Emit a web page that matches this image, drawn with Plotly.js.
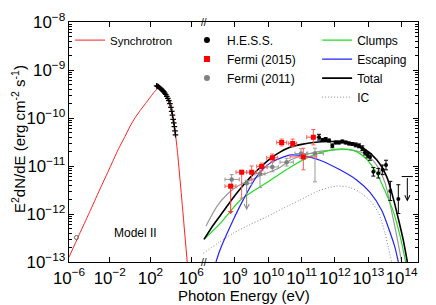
<!DOCTYPE html>
<html>
<head>
<meta charset="utf-8">
<script src="https://cdn.plot.ly/plotly-3.0.1.min.js"></script>
<style>html,body{margin:0;padding:0;background:#fff;}#chart{width:436px;height:305px;}</style>
</head>
<body>
<div id="chart"></div>
<script>
// ---- data (log10 of photon energy in eV, log10 of E^2dN/dE in erg cm^-2 s^-1) ----
const syncLogE = [-6, -5, -4, -3, -2, -1.2, -0.5, 0, 0.5, 1.0, 1.5, 2.0, 2.4, 2.7, 3.0, 3.3, 3.6, 3.94, 4.23, 4.43, 4.65, 5.05, 5.6];
const syncLogF = [-12.9, -12.43, -11.97, -11.5, -11.04, -10.67, -10.38, -10.17, -9.99, -9.84, -9.7, -9.56, -9.45, -9.39, -9.4, -9.46, -9.55, -9.67, -9.98, -10.3, -10.72, -11.65, -13.0];

const xrayLogE = [2.6, 2.7, 2.8, 2.9, 3.0, 3.1, 3.2, 3.3, 3.4, 3.5, 3.6, 3.7, 3.8, 3.9, 4.0, 4.08, 4.15, 4.22, 4.28, 4.34, 4.4, 4.45];
const xrayLogF = [-9.33, -9.34, -9.35, -9.37, -9.39, -9.41, -9.43, -9.45, -9.48, -9.51, -9.55, -9.59, -9.64, -9.7, -9.78, -9.86, -9.94, -10.03, -10.1, -10.18, -10.27, -10.35];

const radioLogE = [-5.27];
const radioLogF = [-12.49];

const totalLogE = [8.07, 8.3, 8.55, 8.8, 9.05, 9.3, 9.55, 9.8, 10.05, 10.35, 10.65, 11.0, 11.35, 11.85, 12.35, 12.85, 13.25, 13.55, 13.75, 13.9, 14.05, 14.17];
const totalLogF = [-12.53, -12.28, -12.04, -11.8, -11.57, -11.36, -11.17, -11.0, -10.85, -10.71, -10.61, -10.55, -10.51, -10.49, -10.5, -10.63, -10.87, -11.22, -11.68, -12.1, -12.55, -13.0];

const clumpsLogE = [8.07, 8.55, 9.15, 9.6, 10.05, 10.65, 11.25, 11.95, 12.35, 12.65, 12.95, 13.25, 13.55, 13.75, 13.95, 14.12];
const clumpsLogF = [-12.53, -12.2, -11.72, -11.5, -11.3, -11.03, -10.8, -10.66, -10.65, -10.7, -10.86, -11.15, -11.6, -11.95, -12.45, -13.0];

const escLogE = [8.43, 8.55, 8.95, 9.25, 9.65, 10.05, 10.35, 10.7, 11.05, 11.55, 12.15, 12.65, 13.05, 13.4, 13.65, 13.8, 13.9];
const escLogF = [-13.0, -12.75, -12.12, -11.7, -11.22, -10.94, -10.84, -10.77, -10.79, -10.88, -11.08, -11.29, -11.55, -11.92, -12.38, -12.7, -13.0];

const icLogE = [8.05, 8.5, 8.95, 9.45, 9.95, 10.45, 10.95, 11.5, 12.05, 12.45, 12.75, 13.05, 13.3, 13.5, 13.6, 13.7];
const icLogF = [-12.82, -12.6, -12.4, -12.22, -12.06, -11.88, -11.71, -11.52, -11.42, -11.45, -11.55, -11.72, -11.97, -12.4, -12.7, -13.0];

const grayLogE = [8.13, 8.45, 8.75, 9.05, 9.45, 9.95, 10.35, 10.65, 11.35, 11.9, 12.4, 12.9, 13.25, 13.5, 13.7, 13.85, 14.0];
const grayLogF = [-12.25, -11.85, -11.6, -11.43, -11.3, -11.15, -11.03, -10.88, -10.72, -10.67, -10.66, -10.75, -10.98, -11.35, -11.95, -12.45, -13.0];

const hessLogE = [11.52, 11.62, 11.72, 11.82, 11.92, 12.02, 12.12, 12.22, 12.32, 12.42, 12.52, 12.62, 12.72, 12.82, 12.9, 12.97, 13.05, 13.15, 13.3, 13.43, 13.53, 13.66, 13.9];
const hessLogF = [-10.40, -10.46, -10.44, -10.47, -10.58, -10.51, -10.51, -10.49, -10.51, -10.53, -10.54, -10.56, -10.58, -10.63, -10.72, -10.77, -10.81, -11.12, -11.15, -11.08, -10.98, -11.52, -11.69];
const hessLogErr = [0.06, 0.03, 0.03, 0.03, 0.04, 0.03, 0.03, 0.03, 0.03, 0.03, 0.03, 0.04, 0.04, 0.05, 0.05, 0.06, 0.07, 0.09, 0.1, 0.1, 0.1, 0.2, 0.3];
const hessUlLogE = [14.17];
const hessUlFrom = [-11.22];
const hessUlTo = [-11.74];

const f15LogE = [8.87, 9.2, 9.5, 9.8, 10.12, 10.4, 10.73, 11.05, 11.35];
const f15LogF = [-11.42, -11.13, -11.13, -11.01, -10.83, -10.51, -10.53, -10.81, -10.4];
const f15LogElo = [8.7, 9.03, 9.35, 9.65, 9.95, 10.25, 10.6, 10.65, 11.15];
const f15LogEhi = [9.03, 9.35, 9.65, 9.95, 10.28, 10.55, 10.85, 11.45, 11.5];
const f15LogFlo = [-11.42, -11.67, -11.29, -11.1, -10.92, -10.58, -10.6, -11.08, -10.56];
const f15LogFhi = [-11.38, -11.09, -11.0, -10.94, -10.75, -10.44, -10.44, -10.63, -10.24];
const f15UlLogE = [8.87];
const f15UlFrom = [-11.42];
const f15UlTo = [-12.0];

const f11LogE = [8.9, 9.35, 9.75, 10.12, 10.55, 10.98, 11.4];
const f11LogF = [-11.28, -11.36, -11.16, -11.02, -10.92, -10.74, -10.74];
const f11LogElo = [8.7, 9.2, 9.6, 9.97, 10.35, 10.8, 11.15];
const f11LogEhi = [9.13, 9.5, 9.9, 10.3, 10.75, 11.18, 11.65];
const f11LogFlo = [-11.4, -11.36, -11.45, -11.12, -11.0, -10.84, -11.33];
const f11LogFhi = [-11.18, -11.3, -11.0, -10.9, -10.84, -10.64, -10.63];
const f11UlLogE = [9.35];
const f11UlFrom = [-11.36];
const f11UlTo = [-11.92];

// ---- helpers ----
const FONT = 'Liberation Sans, Arial, Helvetica, sans-serif';
const pw = a => a.map(v => Math.pow(10, v));
const plusOf = (hi, c) => hi.map((h, i) => Math.pow(10, h) - Math.pow(10, c[i]));
const minusOf = (lo, c) => lo.map((l, i) => Math.pow(10, c[i]) - Math.pow(10, l));

const hessMarker = {symbol: 'circle', size: 4, color: '#000'};
const f15Marker = {symbol: 'square', size: 5, color: '#ff0000'};
const f11Marker = {symbol: 'circle', size: 4.5, color: '#808080'};

const traces = [
  {x: pw(syncLogE), y: pw(syncLogF), xaxis: 'x', yaxis: 'y', mode: 'lines', name: 'Synchrotron',
   line: {color: '#ff2020', width: 1, shape: 'spline', smoothing: 0.6}, legend: 'legend'},
  {x: pw(xrayLogE), y: pw(xrayLogF), xaxis: 'x', yaxis: 'y', mode: 'markers', showlegend: false,
   marker: {symbol: 'cross-thin-open', size: 4, color: '#000', line: {width: 1.2, color: '#000'}}},
  {x: pw(radioLogE), y: pw(radioLogF), xaxis: 'x', yaxis: 'y', mode: 'markers', showlegend: false,
   marker: {symbol: 'circle-open', size: 4, color: '#666', line: {width: 1, color: '#666'}}},

  {x: pw(icLogE), y: pw(icLogF), xaxis: 'x2', yaxis: 'y2', mode: 'lines', name: 'IC', legend: 'legend3', legendrank: 4,
   line: {color: '#888', width: 1, dash: '1px,2px', shape: 'spline', smoothing: 0.8}},
  {x: pw(grayLogE), y: pw(grayLogF), xaxis: 'x2', yaxis: 'y2', mode: 'lines', showlegend: false,
   line: {color: '#999', width: 1.2, shape: 'spline', smoothing: 0.8}},
  {x: pw(clumpsLogE), y: pw(clumpsLogF), xaxis: 'x2', yaxis: 'y2', mode: 'lines', name: 'Clumps', legend: 'legend3', legendrank: 1,
   line: {color: '#22dd22', width: 1.2, shape: 'spline', smoothing: 0.8}},
  {x: pw(escLogE), y: pw(escLogF), xaxis: 'x2', yaxis: 'y2', mode: 'lines', name: 'Escaping', legend: 'legend3', legendrank: 2,
   line: {color: '#2222ff', width: 1.2, shape: 'spline', smoothing: 0.8}},
  {x: pw(totalLogE), y: pw(totalLogF), xaxis: 'x2', yaxis: 'y2', mode: 'lines', name: 'Total', legend: 'legend3', legendrank: 3,
   line: {color: '#000', width: 1.6, shape: 'spline', smoothing: 0.8}},

  {x: pw(f11LogE), y: pw(f11LogF), xaxis: 'x2', yaxis: 'y2', mode: 'markers', showlegend: false,
   marker: f11Marker,
   error_x: {type: 'data', symmetric: false, array: plusOf(f11LogEhi, f11LogE), arrayminus: minusOf(f11LogElo, f11LogE), color: '#999', thickness: 1, width: 2},
   error_y: {type: 'data', symmetric: false, array: plusOf(f11LogFhi, f11LogF), arrayminus: minusOf(f11LogFlo, f11LogF), color: '#999', thickness: 1, width: 2}},
  {x: pw(f15LogE), y: pw(f15LogF), xaxis: 'x2', yaxis: 'y2', mode: 'markers', showlegend: false,
   marker: f15Marker,
   error_x: {type: 'data', symmetric: false, array: plusOf(f15LogEhi, f15LogE), arrayminus: minusOf(f15LogElo, f15LogE), color: '#ff5a5a', thickness: 1, width: 2},
   error_y: {type: 'data', symmetric: false, array: plusOf(f15LogFhi, f15LogF), arrayminus: minusOf(f15LogFlo, f15LogF), color: '#ff5a5a', thickness: 1, width: 2}},
  {x: pw(hessLogE), y: pw(hessLogF), xaxis: 'x2', yaxis: 'y2', mode: 'markers', showlegend: false,
   marker: hessMarker,
   error_y: {type: 'data', symmetric: false,
     array: hessLogF.map((v, i) => Math.pow(10, v + hessLogErr[i]) - Math.pow(10, v)),
     arrayminus: hessLogF.map((v, i) => Math.pow(10, v) - Math.pow(10, v - hessLogErr[i])),
     color: '#000', thickness: 1, width: 2}},
  {x: pw(hessUlLogE), y: pw(hessUlFrom), xaxis: 'x2', yaxis: 'y2', mode: 'markers', showlegend: false,
   marker: {symbol: 'line-ew', size: 8, color: '#000', line: {width: 1, color: '#000'}}},

  // legend-only entries (no error bars in the key, as in the original)
  {x: [null], y: [null], xaxis: 'x2', yaxis: 'y2', mode: 'markers', name: 'H.E.S.S.', legend: 'legend2', legendrank: 1,
   marker: {symbol: 'circle', size: 6, color: '#000'}},
  {x: [null], y: [null], xaxis: 'x2', yaxis: 'y2', mode: 'markers', name: 'Fermi (2015)', legend: 'legend2', legendrank: 2,
   marker: {symbol: 'square', size: 6, color: '#ff0000'}},
  {x: [null], y: [null], xaxis: 'x2', yaxis: 'y2', mode: 'markers', name: 'Fermi (2011)', legend: 'legend2', legendrank: 3,
   marker: {symbol: 'circle', size: 6, color: '#808080'}}
];

const arrow = (e, from, to, color, head) => ({
  xref: 'x2', yref: 'y2', axref: 'x2', ayref: 'y2', x: e, y: to, ax: e, ay: from,
  text: '', showarrow: true, arrowhead: head, arrowsize: 1, arrowwidth: 1, arrowcolor: color,
  standoff: 0, startstandoff: 0
});

const annotations = [];
f15UlLogE.forEach((e, i) => annotations.push(arrow(e, f15UlFrom[i], f15UlTo[i], '#ff3030', 1)));
f11UlLogE.forEach((e, i) => annotations.push(arrow(e, f11UlFrom[i], f11UlTo[i], '#888', 5)));
hessUlLogE.forEach((e, i) => annotations.push(arrow(e, hessUlFrom[i], hessUlTo[i], '#000', 5)));

const brk = 0.3825;
annotations.push(
  {xref: 'paper', yref: 'paper', x: 0.191, y: 0.12, text: 'Model II', showarrow: false,
   font: {size: 12, family: FONT, color: '#000'}, xanchor: 'center', yanchor: 'middle'},
  {xref: 'paper', yref: 'paper', x: 0.5, y: -0.14, text: 'Photon Energy (eV)', showarrow: false,
   font: {size: 15, family: FONT, color: '#000'}, xanchor: 'center', yanchor: 'middle'},
  {xref: 'paper', yref: 'paper', x: -0.146, y: 0.5125, text: 'E<sup>2</sup>dN/dE (erg cm<sup>-2</sup> s<sup>-1</sup>)',
   showarrow: false, textangle: -90, font: {size: 15, family: FONT, color: '#000'}, xanchor: 'center', yanchor: 'middle'},
  {xref: 'paper', yref: 'paper', x: brk + 0.003, y: 0, text: '//', showarrow: false,
   font: {size: 10, family: FONT, color: '#000'}, xanchor: 'center', yanchor: 'middle'},
  {xref: 'paper', yref: 'paper', x: brk + 0.003, y: 1, text: '//', showarrow: false,
   font: {size: 10, family: FONT, color: '#000'}, xanchor: 'center', yanchor: 'middle'}
);

const axCommon = {
  type: 'log', showline: true, linecolor: '#000', linewidth: 1, ticks: 'inside', ticklen: 5,
  tickwidth: 1, tickcolor: '#000', showgrid: false, zeroline: false, exponentformat: 'power',
  tickangle: 0, tickfont: {size: 13.5, family: FONT, color: '#000'}
};
const yMinor = {ticks: 'inside', ticklen: 3, tickcolor: '#000', dtick: 'D1', showgrid: false};

const legendCommon = {bgcolor: 'rgba(0,0,0,0)', borderwidth: 0, xanchor: 'left', yanchor: 'top',
  font: {size: 11.5, family: FONT, color: '#000'}};

const layout = {
  width: 436, height: 305,
  margin: {l: 69, r: 18, t: 22, b: 43},
  paper_bgcolor: '#fff', plot_bgcolor: '#fff',
  font: {family: FONT, size: 12, color: '#000'},
  showlegend: true,
  xaxis: Object.assign({}, axCommon, {domain: [0, brk], range: [-6, 7.1], anchor: 'y', mirror: 'ticks', tick0: -6, dtick: 4, ticklabelstandoff: 1}),
  xaxis2: Object.assign({}, axCommon, {domain: [brk, 1], range: [8.025, 14.49], anchor: 'y2', mirror: 'ticks', dtick: 1, ticklabelstandoff: 1}),
  yaxis: Object.assign({}, axCommon, {domain: [0, 1], range: [-13, -8], anchor: 'x', side: 'left', dtick: 1, minor: yMinor}),
  yaxis2: Object.assign({}, axCommon, {domain: [0, 1], range: [-13, -8], anchor: 'x2', side: 'right', dtick: 1,
    showticklabels: false, minor: yMinor}),
  legend: Object.assign({}, legendCommon, {x: 0.003, y: 0.985}),
  legend2: Object.assign({}, legendCommon, {x: 0.338, y: 0.985, font: {size: 12, family: FONT, color: '#000'}}),
  legend3: Object.assign({}, legendCommon, {x: 0.711, y: 0.985, font: {size: 12, family: FONT, color: '#000'}}),
  annotations: annotations
};

Plotly.newPlot('chart', traces, layout, {displayModeBar: false, staticPlot: true});
</script>
</body>
</html>
